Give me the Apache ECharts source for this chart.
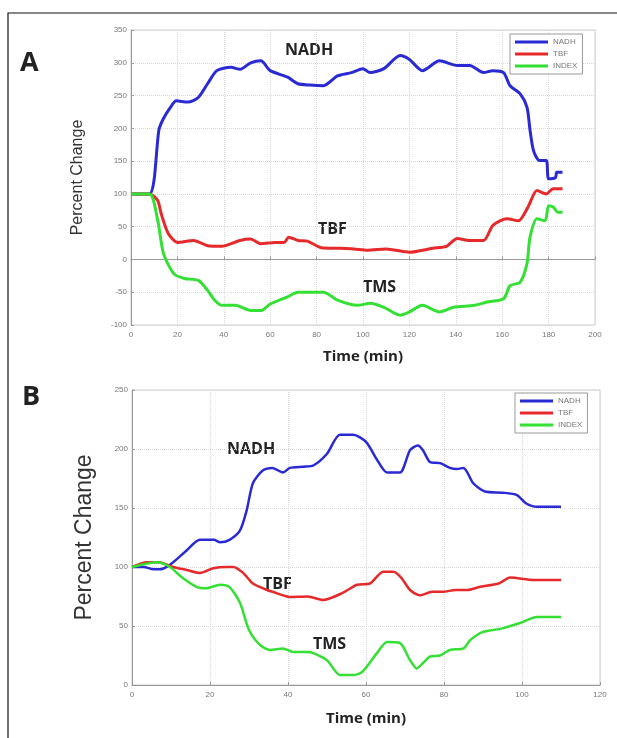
<!DOCTYPE html>
<html>
<head>
<meta charset="utf-8">
<script src="https://cdn.jsdelivr.net/npm/echarts@6/dist/echarts.min.js"></script>
<style>
  html, body { margin: 0; padding: 0; background: #fff; }
  #main { width: 617px; height: 738px; }
</style>
</head>
<body>
<div id="main"></div>
<script>
// panel A: [time (min), percent change]
var topNadh = [[0,100],[8,100],[9.9,120],[12,197],[14,215],[17,232],[19.5,242],[24.5,240],[29,247],[33,268],[37,288],[43,293],[47,290],[51.6,300],[56,303],[60,288],[67.5,278],[72,268],[77,266],[83,265],[89,280],[95,285],[100,291],[103,285],[109,291],[116,311],[120,305],[125.6,288],[133,303],[140.6,296],[146,296],[152,285],[156,288],[160.6,285],[163.4,265],[167.7,253],[170.7,232],[172,197],[173.5,166],[176,151],[179,151],[180,123],[183,125],[183.5,133],[186,133]];
var topTbf = [[0,100],[8,100],[11.5,90],[13,70],[16,40],[20,26],[27,29],[33,21],[39,20],[47,29],[51.6,31],[56,24],[62,26],[66,26],[68,34],[72,29],[76,28],[82,18],[90,17],[96,16],[102,14],[110,16],[120,11],[130,17],[136,20],[140.6,32],[146,29],[152,29],[156,52],[162,62],[167,59],[171,79],[175,105],[179,100],[182,108],[186,108]];
var topIndex = [[0,100],[8,100],[11.5,60],[14,9],[18.5,-22],[23,-29],[29,-32],[33,-47],[36,-62],[39,-70],[45,-70],[51.6,-78],[56,-78],[60,-68],[67.5,-57],[72,-50],[83,-50],[89,-62],[97.6,-70],[103,-67],[109,-73],[116,-85],[120,-80],[125.6,-70],[133,-80],[139,-73],[148,-70],[153.5,-65],[160.6,-60],[163.4,-40],[167.7,-35],[170.7,-6],[172,34],[175,62],[178.5,59],[180,82],[182,80],[184,72],[186,72]];

// panel B
var botNadh = [[0,100],[3,100],[5.5,98],[7,98],[9.8,102],[14,114],[17.4,123],[21,123],[22.6,121],[25,123],[27.7,131],[29.4,148],[31,171],[33.6,182],[36,184],[38.7,180],[40.5,184],[44,185],[46.5,186],[50,196],[53.3,212],[56.7,212],[60,206],[62.8,191],[65.4,180],[68.7,180],[71.3,199],[73.3,203],[74.6,199],[76.4,189],[79,188],[81.5,184],[83.3,183],[85,184],[87.5,171],[90.5,164],[95,163],[98.7,161],[101,154],[103.8,151],[110,151]];
var botTbf = [[0,100],[3.8,104],[7,104],[10.5,100],[14,97.5],[17.4,95],[20.8,99],[24.4,100],[26,100],[28.5,95],[31,86],[34.6,80.5],[36,79],[40.5,74.6],[45,75],[49,72],[54,78],[57.7,85],[61,86],[64.4,96],[67,96],[69,91],[71.3,80.5],[73.8,76],[77,79],[79.7,79],[83,80.5],[86,80.5],[89,83],[94,86],[97,91],[103,89],[110,89]];
var botIndex = [[0,100],[6.4,104],[9.7,100],[13,90.7],[16.7,83],[19,82],[22.6,85],[25,83],[27.7,69.5],[30,46.6],[32.8,34],[35.4,29.7],[38.7,31],[41.3,28],[45,28],[46.5,27],[50,21],[53.3,8.5],[56.7,8.5],[59,11],[62.8,27],[65.4,36.4],[68.7,35.6],[71.3,21],[73,14],[74.6,18.6],[76.4,24],[79,25],[81.5,29.7],[85,31],[86.7,38],[90,45],[95,48],[99.5,52.5],[103.8,57.6],[110,57.6]];

var legendNames = ['NADH', 'TBF', 'INDEX'];
var colors = ['#2a2ad4', '#e6292b', '#33e033'];

var myChart = echarts.init(document.getElementById('main'));

function xAx(idx, max, gap) {
  return {
    type: 'value', gridIndex: idx, min: 0, max: max, interval: 20,
    name: 'Time (min)', nameLocation: 'middle', nameGap: gap,
    nameTextStyle: { fontSize: 15, fontWeight: 'bold', color: '#222', fontFamily: 'Open Sans' },
    axisLine: { lineStyle: { color: '#999' } },
    axisTick: { inside: true, length: 3, lineStyle: { color: '#999' } },
    axisLabel: { fontSize: 8, color: '#777', margin: 6 },
    splitLine: { show: true, lineStyle: { color: '#d8d8d8', type: 'dotted' } }
  };
}
function yAx(idx, min, max, gap, fs) {
  return {
    type: 'value', gridIndex: idx, min: min, max: max, interval: 50,
    name: 'Percent Change', nameLocation: 'middle', nameGap: gap,
    nameTextStyle: { fontSize: fs, color: '#333', fontFamily: 'Liberation Sans' },
    axisLine: { show: true, lineStyle: { color: '#999' } },
    axisTick: { show: true, inside: true, length: 3, lineStyle: { color: '#999' } },
    axisLabel: { fontSize: 8, color: '#777', margin: 4 },
    splitLine: { show: true, lineStyle: { color: '#d8d8d8', type: 'dotted' } }
  };
}
function line(name, data, idx, color, w) {
  return {
    name: name, type: 'line', xAxisIndex: idx, yAxisIndex: idx,
    data: data, showSymbol: false, smooth: 0.25,
    lineStyle: { color: color, width: w }, itemStyle: { color: color }
  };
}
function leg(left, top) {
  return {
    data: legendNames, orient: 'vertical', left: left, top: top,
    icon: 'rect', itemWidth: 33, itemHeight: 3, itemGap: 4,
    padding: [4, 5, 4, 5],
    borderColor: '#999', borderWidth: 1, backgroundColor: '#fff',
    textStyle: { fontSize: 8, color: '#777' }
  };
}
function txt(x, y, s, size, bold) {
  return {
    type: 'text', left: x, top: y,
    style: { text: s, font: (bold ? 'bold ' : '') + size + 'px "Open Sans", sans-serif', fill: '#222' }
  };
}

var option = {
  animation: false,
  backgroundColor: '#fff',
  grid: [
    { left: 131, top: 30, width: 464, height: 295, show: true, borderColor: '#ccc' },
    { left: 132, top: 390, width: 468, height: 295, show: true, borderColor: '#ccc' }
  ],
  xAxis: [xAx(0, 200, 24), xAx(1, 120, 26)],
  yAxis: [yAx(0, -100, 350, 45, 16), yAx(1, 0, 250, 36, 23)],
  legend: [leg(510, 34), leg(515, 393)],
  series: [
    line('NADH', topNadh, 0, colors[0], 3),
    line('TBF', topTbf, 0, colors[1], 3),
    line('INDEX', topIndex, 0, colors[2], 3),
    line('NADH', botNadh, 1, colors[0], 2.5),
    line('TBF', botTbf, 1, colors[1], 2.5),
    line('INDEX', botIndex, 1, colors[2], 2.5)
  ],
  graphic: [
    { type: 'rect', shape: { x: 8, y: 13, width: 640, height: 760 }, style: { fill: 'none', stroke: '#111', lineWidth: 1.2 } },
    txt(20, 50, 'A', 27, true),
    txt(22, 384, 'B', 27, true),
    txt(285, 42, 'NADH', 16, true),
    txt(318, 221, 'TBF', 16, true),
    txt(363, 279, 'TMS', 16, true),
    txt(227, 441, 'NADH', 16, true),
    txt(263, 576, 'TBF', 16, true),
    txt(313, 636, 'TMS', 16, true)
  ]
};
myChart.setOption(option);
</script>
</body>
</html>
